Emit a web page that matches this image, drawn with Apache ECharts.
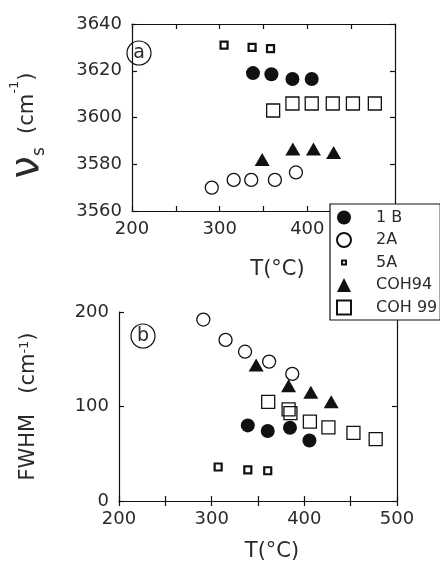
<!DOCTYPE html>
<html>
<head>
<meta charset="utf-8">
<script src="https://cdn.jsdelivr.net/npm/echarts@6/dist/echarts.min.js"></script>
<style>
  html, body { margin: 0; padding: 0; background: #fff; }
  #chart { width: 440px; height: 568px; }
</style>
</head>
<body>
<div id="chart"></div>
<script>
// panel (a): nu_s (cm-1) vs T
var vs1B    = [[338, 3619], [359, 3618.5], [383, 3616.5], [405, 3616.5]];
var vs2A    = [[291, 3570], [316, 3573.3], [336, 3573.3], [363, 3573.3], [387, 3576.5]];
var vs5A    = [[305, 3631], [337, 3630], [358, 3629.5]];
var vsCOH94 = [[348.5, 3582], [383.5, 3586.5], [407, 3586.5], [430, 3585]];
var vsCOH99 = [[361, 3603], [383, 3606], [405, 3606], [429, 3606], [452, 3606], [477, 3606]];

// panel (b): FWHM (cm-1) vs T
var fw1B    = [[339, 80], [360.5, 74], [384.5, 77.5], [405.5, 64]];
var fw2A    = [[291, 192], [315, 170.5], [336, 158], [362, 147.5], [387, 134.5]];
var fw5A    = [[307, 36], [339, 33], [360.5, 32]];
var fwCOH94 = [[348, 144], [383, 122], [407, 115], [429, 105]];
var fwCOH99 = [[361, 105], [383, 97], [385, 93], [406, 84], [426, 78], [453, 72], [477, 65.5]];

var seriesNames = ['1 B', '2A', '5A', 'COH94', 'COH 99'];
var xTickLabels = [200, 300, 400, 500];

var chart = echarts.init(document.getElementById('chart'));

var FONT = 'DejaVu Sans';
var TXT = '#2a2a2a';
var INK = '#111';

function markerStyle(name) {
    if (name === '1 B') return { symbol: 'circle', symbolSize: 14, itemStyle: { color: INK, opacity: 1 } };
    if (name === '2A') return { symbol: 'circle', symbolSize: 13, itemStyle: { color: 'rgba(255,255,255,0)', borderColor: INK, borderWidth: 1.3, opacity: 1 } };
    if (name === '5A') return { symbol: 'rect', symbolSize: 7, itemStyle: { color: '#fff', borderColor: INK, borderWidth: 2.2, opacity: 1 } };
    if (name === 'COH94') return { symbol: 'triangle', symbolSize: [15, 13], itemStyle: { color: INK, opacity: 1 } };
    return { symbol: 'rect', symbolSize: 13, itemStyle: { color: 'rgba(255,255,255,0)', borderColor: INK, borderWidth: 1.3, opacity: 1 } };
}

function makeSeries(name, data, g) {
    var m = markerStyle(name);
    return {
        name: name,
        type: 'scatter',
        xAxisIndex: g * 2,
        yAxisIndex: g * 2,
        data: data,
        symbol: m.symbol,
        symbolSize: m.symbolSize,
        itemStyle: m.itemStyle,
        emphasis: { disabled: true },
        z: 3
    };
}

function xAxes(gridIndex) {
    var base = {
        type: 'value', gridIndex: gridIndex, min: 200, max: 500, interval: 50,
        axisLine: { lineStyle: { color: INK, width: 1.2 } },
        axisTick: { inside: true, length: 5, lineStyle: { color: INK, width: 1.2 } },
        splitLine: { show: false }
    };
    var bottom = echarts.util.merge({
        position: 'bottom',
        name: 'T(°C)',
        nameLocation: 'middle',
        nameGap: gridIndex === 0 ? 48 : 40,
        nameTextStyle: { fontFamily: FONT, fontSize: 21, color: TXT, padding: [0, 0, 0, 28] },
        axisLabel: {
            fontFamily: FONT, fontSize: 18, color: TXT, margin: 9,
            formatter: function (v) { return xTickLabels.indexOf(v) >= 0 ? String(v) : ''; }
        }
    }, base, true);
    var top = echarts.util.merge({ position: 'top', axisLabel: { show: false } }, base, true);
    return [bottom, top];
}

function yAxes(gridIndex, min, max, interval, name, rich, gap, pad) {
    var base = {
        type: 'value', gridIndex: gridIndex, min: min, max: max, interval: interval,
        axisLine: { show: true, lineStyle: { color: INK, width: 1.2 } },
        axisTick: { show: true, inside: true, length: 5, lineStyle: { color: INK, width: 1.2 } },
        splitLine: { show: false }
    };
    var left = echarts.util.merge({
        position: 'left',
        name: name,
        nameLocation: 'middle',
        nameGap: gap,
        nameRotate: 90,
        nameTextStyle: { fontFamily: FONT, fontSize: 21, color: TXT, rich: rich, padding: pad },
        axisLabel: {
            fontFamily: FONT, fontSize: 18, color: TXT, margin: 10,
            formatter: function (v) { return String(v); }
        }
    }, base, true);
    var right = echarts.util.merge({ position: 'right', axisLabel: { show: false } }, base, true);
    return [left, right];
}

var x0 = xAxes(0), x1 = xAxes(1);
var y0 = yAxes(0, 3560, 3640, 20, '{nu|ν}{sub|s}  (cm{sup|-1})', {
    nu: { fontFamily: FONT, fontSize: 40, color: TXT },
    sub: { fontFamily: FONT, fontSize: 17, color: TXT, verticalAlign: 'bottom' },
    sup: { fontFamily: FONT, fontSize: 13, color: TXT, verticalAlign: 'top' }
}, 84, [0, 16, 0, 0]);
var y1 = yAxes(1, 0, 200, 100, 'FWHM   (cm{sup|-1})', {
    sup: { fontFamily: FONT, fontSize: 13, color: TXT, verticalAlign: 'top' }
}, 80, [0, 0, 0, 0]);

var panelA = [vs1B, vs2A, vs5A, vsCOH94, vsCOH99];
var panelB = [fw1B, fw2A, fw5A, fwCOH94, fwCOH99];
var series = [];
seriesNames.forEach(function (n, i) { series.push(makeSeries(n, panelA[i], 0)); });
seriesNames.forEach(function (n, i) { series.push(makeSeries(n, panelB[i], 1)); });

function circledLetter(cx, cy, letter) {
    return {
        type: 'group', x: cx, y: cy, z: 10,
        children: [
            { type: 'circle', shape: { cx: 0, cy: 0, r: 12 }, style: { fill: '#fff', stroke: INK, lineWidth: 1.2 } },
            { type: 'text', x: 0, y: 0, style: { text: letter, fontFamily: FONT, fontSize: 19, fill: TXT, align: 'center', verticalAlign: 'middle' } }
        ]
    };
}

var option = {
    backgroundColor: '#fff',
    animation: false,
    grid: [
        { left: 118, top: 24, width: 277, height: 187 },
        { left: 119, top: 312, width: 278, height: 189 }
    ],
    xAxis: [x0[0], x0[1], x1[0], x1[1]],
    yAxis: [y0[0], y0[1], y1[0], y1[1]],
    legend: {
        orient: 'vertical',
        left: 330,
        top: 204,
        z: 20,
        backgroundColor: '#fff',
        borderColor: INK,
        borderWidth: 1.2,
        borderRadius: 0,
        padding: [5, 3, 4, 6],
        itemWidth: 14,
        itemHeight: 14,
        itemGap: 5.5,
        selectedMode: false,
        textStyle: { fontFamily: FONT, fontSize: 16, color: TXT, padding: [0, 0, 0, 20], lineHeight: 17 },
        data: [
            { name: '1 B' },
            { name: '2A' },
            { name: '5A', icon: 'path://M0,0 M14,14 M5,5 L9,5 L9,9 L5,9 Z' },
            { name: 'COH94' },
            { name: 'COH 99' }
        ]
    },
    graphic: [circledLetter(139, 53, 'a'), circledLetter(143, 336, 'b')],
    series: series
};

chart.setOption(option);
</script>
</body>
</html>
